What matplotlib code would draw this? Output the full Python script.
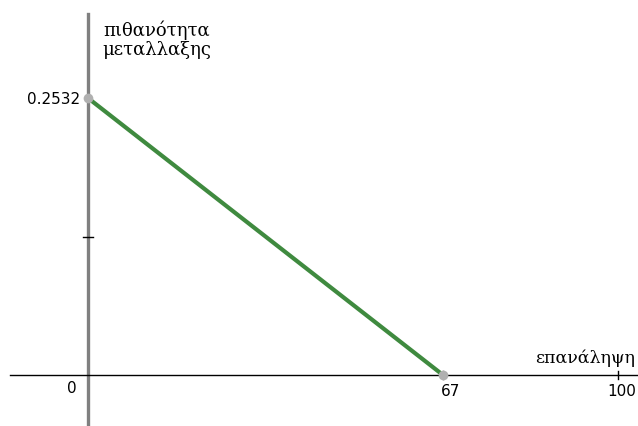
import matplotlib
matplotlib.use("Agg")
import matplotlib.pyplot as plt

x_vals = [0, 67]
y_vals = [0.2532, 0]
x_ticks = [67, 100]
x_tick_labels = ["67", "100"]
y_label_val = 0.2532
y_mid_tick = 0.1266

fig = plt.figure(figsize=(6.38, 4.27), dpi=100)
ax = fig.add_axes([0, 0, 1, 1])
ax.set_xlim(-16.6, 103.8)
ax.set_ylim(-0.0466, 0.3437)
ax.axis("off")

# axes lines
ax.plot([0, 0], [-0.0466, 0.330], color="#808080", lw=2.4, zorder=1)
ax.plot([-14.8, 103.8], [0, 0], color="black", lw=1.0, zorder=1)

# ticks
for t in x_ticks:
    ax.plot([t, t], [-0.004, 0.004], color="black", lw=1.0, zorder=2)
ax.plot([-0.9, 0.9], [y_mid_tick, y_mid_tick], color="black", lw=1.0, zorder=2)

# data line
ax.plot(x_vals, y_vals, color="#3f8a3f", lw=3.0, zorder=3, solid_capstyle="butt")
ax.plot(x_vals, y_vals, linestyle="none", marker="o", ms=7, color="#b0b0b0",
        markeredgewidth=0, zorder=4)

serif = ["DejaVu Serif"]
sans = ["DejaVu Sans"]
ax.text(2.8, 0.325, "πιθανότητα\nμεταλλαξης", fontsize=13, family=serif,
        va="top", ha="left", linespacing=1.1)
ax.text(-1.4, y_label_val, "0.2532", fontsize=11, family=sans, ha="right", va="center")
ax.text(-3.0, -0.011, "0", fontsize=11, family=sans, ha="center", va="center")
ax.text(x_ticks[0] + 1.5, -0.014, x_tick_labels[0], fontsize=11, family=sans,
        ha="center", va="center")
ax.text(103.4, -0.014, x_tick_labels[1], fontsize=11, family=sans,
        ha="right", va="center")
ax.text(84.3, 0.0165, "επανάληψη", fontsize=12.5, family=serif, ha="left", va="center")

fig.savefig("out.png", dpi=100)
